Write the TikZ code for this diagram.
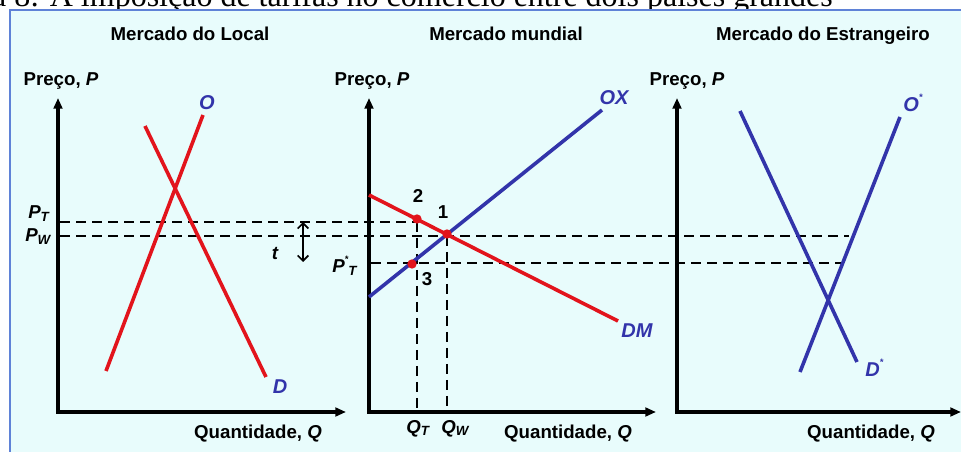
\documentclass[tikz,border=0pt]{standalone}
\usepackage{fontspec}
\setmainfont{Liberation Sans}
\newfontfamily\capfont{Liberation Serif}
\usetikzlibrary{arrows.meta}
\definecolor{bgc}{RGB}{232,252,252}
\definecolor{bordc}{RGB}{95,130,215}
\definecolor{redl}{RGB}{226,20,28}
\definecolor{bluel}{RGB}{50,52,170}
\newcommand{\sstar}{\raisebox{0.55em}{\fontsize{7}{7}\selectfont *}}
\begin{document}
\begin{tikzpicture}[x=0.75pt,y=-0.75pt,
  lbl/.style={font=\fontsize{14}{16}\selectfont\bfseries, inner sep=0pt},
  ilbl/.style={font=\fontsize{14}{16}\selectfont\bfseries\itshape, inner sep=0pt},
  clbl/.style={font=\fontsize{15}{17}\selectfont\bfseries\itshape, text=bluel, inner sep=0pt},
  axisline/.style={line width=2.4pt, line join=miter, {Triangle[length=8pt,width=6.5pt]}-{Triangle[length=8pt,width=6.5pt]}},
  redcurve/.style={line width=2.7pt, draw=redl},
  bluecurve/.style={line width=2.7pt, draw=bluel},
  guide/.style={line width=1.6pt, dash pattern=on 7.5pt off 4.5pt},
  dot/.style={circle, fill=redl, inner sep=0pt, minimum size=7pt},
]
\useasboundingbox (0,0) rectangle (961,452);
\begin{scope}
\clip (0,0) rectangle (961,452);
% caption (cropped at the top)
\node[anchor=base east, inner sep=0pt, font=\capfont\fontsize{24}{26}\selectfont] (cap) at (833,7) {Figura 8: A imposição de tarifas no comércio entre dois países grandes};
% panel
\draw[fill=bgc, draw=bordc, line width=1.6pt] (10,10) rectangle (975,470);

% titles
\node[lbl, anchor=base] (t1) at (190,41) {Mercado do Local};
\node[lbl, anchor=base] (t2) at (506,41) {Mercado mundial};
\node[lbl, anchor=base] (t3) at (823,41) {Mercado do Estrangeiro};

% axes coordinates
\coordinate (a1top) at (58,98);  \coordinate (a1o) at (58,412); \coordinate (a1r) at (346,412);
\coordinate (a2top) at (369,98); \coordinate (a2o) at (369,412); \coordinate (a2r) at (656,412);
\coordinate (a3top) at (677,98); \coordinate (a3o) at (677,412); \coordinate (a3r) at (961,412);

% guides
\coordinate (pt0) at (60,222); \coordinate (pw0) at (60,236);
\coordinate (pwend) at (849,236);
\coordinate (ps0) at (371,263); \coordinate (psend) at (841,263);
\coordinate (p2g) at (417,222); \coordinate (p1g) at (447,236);
\coordinate (qt) at (417,412); \coordinate (qw) at (447,412);
\draw[guide] (pt0) -- (p2g);
\draw[guide] (pw0) -- (pwend);
\draw[guide] (ps0) -- (psend);
\draw[guide] (p2g) -- (qt);
\draw[guide] (p1g) -- (qw);

% axes
\draw[axisline] (a1top) -- (a1o) -- (a1r);
\draw[axisline] (a2top) -- (a2o) -- (a2r);
\draw[axisline] (a3top) -- (a3o) -- (a3r);

% axis labels
\node[lbl, anchor=base] (y1) at (61,86) {Preço, \textit{P}};
\node[lbl, anchor=base] (y2) at (372,86) {Preço, \textit{P}};
\node[lbl, anchor=base] (y3) at (687,86) {Preço, \textit{P}};
\node[lbl, anchor=base] (x1) at (258,439) {Quantidade, \textit{Q}};
\node[lbl, anchor=base] (x2) at (568,439) {Quantidade, \textit{Q}};
\node[lbl, anchor=base] (x3) at (871,439) {Quantidade, \textit{Q}};

% panel 1 curves
\coordinate (o1a) at (106,371); \coordinate (o1b) at (203,115);
\coordinate (d1a) at (145,126); \coordinate (d1b) at (266,377);
\draw[redcurve] (o1a) -- (o1b);
\draw[redcurve] (d1a) -- (d1b);
\node[clbl, anchor=base] (lO) at (207,110) {O};
\node[clbl, anchor=base] (lD) at (280,393) {D};

% panel 2 curves
\coordinate (dma) at (369,195); \coordinate (dmb) at (618,321);
\coordinate (oxa) at (369,297); \coordinate (oxb) at (602,110);
\draw[redcurve] (dma) -- (dmb);
\draw[bluecurve] (oxa) -- (oxb);
\node[clbl, anchor=base] (lOX) at (614,105) {OX};
\node[clbl, anchor=base] (lDM) at (637,338) {DM};

% points
\node[dot] (n2) at (417,219) {};
\node[dot] (n1) at (447,234) {};
\node[dot] (n3) at (412,264) {};
\node[lbl, anchor=base] (l2) at (418,203) {2};
\node[lbl, anchor=base] (l1) at (443,219) {1};
\node[lbl, anchor=base] (l3) at (427,286) {3};

% price labels
\node[ilbl, anchor=base west] (lPT) at (28,219) {P\textsubscript{\fontsize{10}{10}\selectfont T}};
\node[ilbl, anchor=base west] (lPW) at (25,242) {P\textsubscript{\fontsize{10}{10}\selectfont W}};
\node[ilbl, anchor=base west] (lPsT) at (332,273) {P\sstar\textsubscript{\fontsize{10}{10}\selectfont T}};
\node[ilbl, anchor=base west] (lQT) at (406,433) {Q\textsubscript{\fontsize{10}{10}\selectfont T}};
\node[ilbl, anchor=base west] (lQW) at (441,433) {Q\textsubscript{\fontsize{10}{10}\selectfont W}};

% tariff arrow
\coordinate (ta) at (303,222); \coordinate (tb) at (303,262);
\draw[line width=1.3pt, {Straight Barb[length=4pt,width=8pt]}-{Straight Barb[length=4pt,width=8pt]}] (ta) -- (tb);
\node[ilbl, anchor=center] (lt) at (275,253) {t};

% panel 3 curves
\coordinate (d3a) at (740,111); \coordinate (d3b) at (857,362);
\coordinate (o3a) at (800,372); \coordinate (o3b) at (900,117);
\draw[bluecurve] (d3a) -- (d3b);
\draw[bluecurve] (o3a) -- (o3b);
\node[clbl, anchor=base west] (lOs) at (903,112) {O\sstar};
\node[clbl, anchor=base west] (lDs) at (865,377) {D\sstar};
\end{scope}
\end{tikzpicture}
\end{document}
